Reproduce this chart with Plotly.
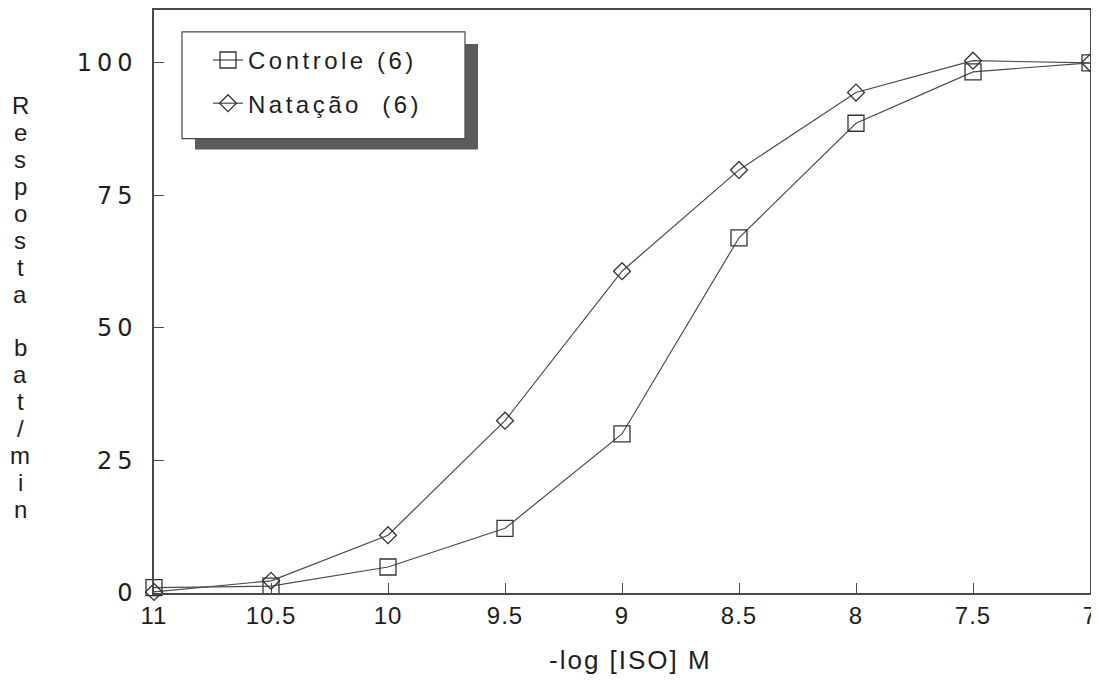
import plotly.graph_objects as go

# ---- data ----
x_vals = [11, 10.5, 10, 9.5, 9, 8.5, 8, 7.5, 7]
controle = [1.0, 1.3, 4.9, 12.2, 30.0, 67.0, 88.6, 98.3, 100.0]
natacao = [0.2, 2.3, 10.9, 32.5, 60.7, 79.8, 94.4, 100.4, 100.0]
x_ticks = [11, 10.5, 10, 9.5, 9, 8.5, 8, 7.5, 7]
x_ticktext = ["11", "10.5", "10", "9.5", "9", "8.5", "8", "7.5", "7"]
y_ticks = [0, 25, 50, 75, 100]
y_ticktext = ["0", "25", "50", "75", "100"]
series_names = ["Controle (6)", "Natação  (6)"]
x_title = "-log [ISO] M"
y_title_words = ["Resposta", "bat/min"]

# ---- geometry (page pixels; the page body has an 8px margin) ----
OFF = 8
PAGE_W, PAGE_H = 1099, 681
W, H = PAGE_W - OFF, PAGE_H - OFF
L, R, T, B = 154, 1090, 8, 593          # plot area in page pixels
Y_TOP = (593 - 8) / ((593 - 61) / 100)  # value at top frame (0 at 593px, 100 at 61px)


def px(xp):
    return (xp - L) / (R - L)


def py(yp):
    return (B - yp) / (B - T)


LINE = "#4a4a4a"
TXT = "#1e1e1e"


def spaced(s, sp):
    return f"<span style='letter-spacing:{sp}px'>{s}</span>"


fig = go.Figure()
fig.add_trace(go.Scatter(
    x=x_vals, y=controle, name=spaced(series_names[0], 3.5), mode="lines+markers",
    line=dict(color=LINE, width=1.2),
    marker=dict(symbol="square-open", size=16, color="#333", line=dict(width=1.3)),
    cliponaxis=False, legendgroup="a"))
fig.add_trace(go.Scatter(
    x=x_vals, y=natacao, name=spaced(series_names[1], 3.5), mode="lines+markers",
    line=dict(color=LINE, width=1.2),
    marker=dict(symbol="diamond-open", size=13, color="#333", line=dict(width=1.3)),
    cliponaxis=False, legendgroup="b"))

shapes = [
    # legend shadow
    dict(type="rect", xref="paper", yref="paper",
         x0=px(195), x1=px(478), y0=py(148), y1=py(42),
         fillcolor="#5c5c5c", line=dict(width=0), layer="above"),
    # legend box
    dict(type="rect", xref="paper", yref="paper",
         x0=px(182), x1=px(465), y0=py(137), y1=py(30),
         fillcolor="white", line=dict(color=LINE, width=1.2), layer="above"),
]

annotations = []
# x title
annotations.append(dict(text=spaced(x_title, 2), x=px(630), y=py(660), xref="paper", yref="paper",
                        showarrow=False, xanchor="center", yanchor="middle",
                        font=dict(family="Liberation Sans", size=26, color=TXT)))
# vertical stacked y-title
starts = [104, 347]
step = 27
for word, y0 in zip(y_title_words, starts):
    for i, ch in enumerate(word):
        annotations.append(dict(text=ch, x=px(20), y=py(y0 + i * step), xref="paper", yref="paper",
                                showarrow=False, xanchor="center", yanchor="middle",
                                font=dict(family="Liberation Sans", size=24, color=TXT)))

fig.update_layout(
    width=W, height=H,
    margin=dict(l=L - OFF, r=PAGE_W - R, t=T - OFF, b=PAGE_H - B, pad=0),
    paper_bgcolor="white", plot_bgcolor="white",
    showlegend=True,
    legend=dict(x=px(208), y=py(36), xanchor="left", yanchor="top",
                bgcolor="rgba(0,0,0,0)", borderwidth=0, tracegroupgap=9,
                font=dict(family="Liberation Sans", size=24, color=TXT),
                itemclick=False),
    shapes=shapes, annotations=annotations,
    xaxis=dict(range=[11, 7], tickvals=x_ticks, ticktext=[spaced(t, 1) for t in x_ticktext],
               ticks="inside", ticklen=10, tickcolor=LINE, tickwidth=1,
               showline=True, linecolor=LINE, linewidth=1.5, mirror=True,
               showgrid=False, zeroline=False, ticklabeloverflow="allow",
               tickfont=dict(family="Liberation Sans", size=24, color=TXT)),
    yaxis=dict(range=[0, Y_TOP], tickvals=y_ticks, ticktext=[spaced(t, 5) for t in y_ticktext],
               ticks="inside", ticklen=10, tickcolor=LINE, tickwidth=1,
               showline=True, linecolor=LINE, linewidth=1.5, mirror=True,
               showgrid=False, zeroline=False, ticklabelstandoff=10,
               tickfont=dict(family="DejaVu Sans", size=24, color=TXT)),
)

fig.write_html("out.html")
